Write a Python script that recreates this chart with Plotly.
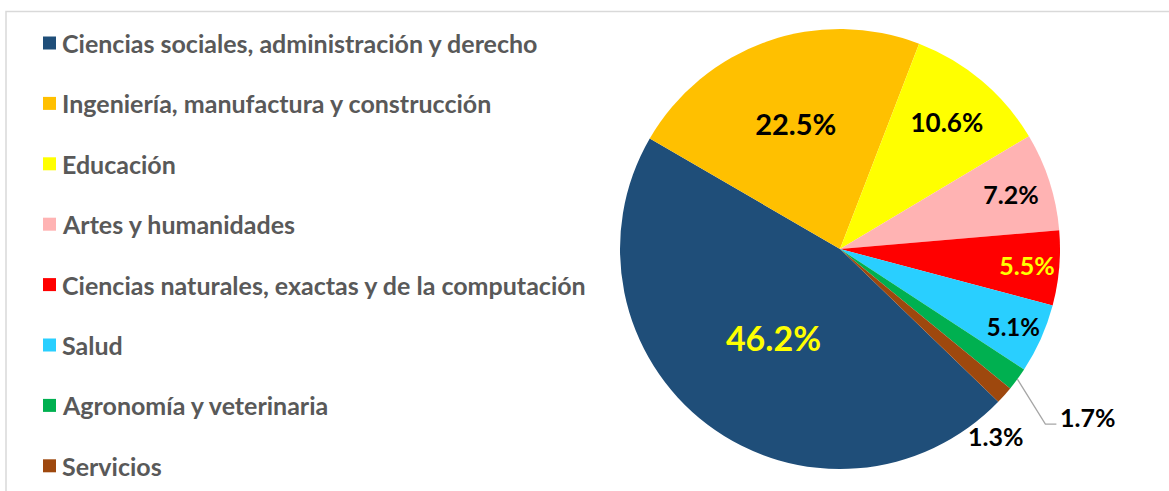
import math
import plotly.graph_objects as go

categories = [
    "Ciencias sociales, administración y derecho",
    "Ingeniería, manufactura y construcción",
    "Educación",
    "Artes y humanidades",
    "Ciencias naturales, exactas y de la computación",
    "Salud",
    "Agronomía y veterinaria",
    "Servicios",
]
values = [46.2, 22.5, 10.6, 7.2, 5.5, 5.1, 1.7, 1.3]
colors = ["#1F4E79", "#FFC000", "#FFFF00", "#FFB3B3", "#FF0000", "#29CFFF", "#00B050", "#9E480E"]
label_colors = ["#FFFF00", "#000000", "#000000", "#000000", "#FFFF00", "#000000", "#000000", "#000000"]
label_sizes = [34, 29, 26, 25, 25, 25, 25, 25]
label_pos = ["inside"] * 6 + ["none"] * 2

W, H = 1169, 491
FONT = "Lato"
ROT = 134
CX, CY, R = 840, 249, 220

fig = go.Figure()
fig.add_trace(go.Pie(
    labels=categories,
    values=values,
    sort=False,
    direction="clockwise",
    rotation=ROT,
    marker=dict(colors=colors, line=dict(width=0)),
    texttemplate="<b>%{value:.1f}%</b>",
    textposition=label_pos,
    insidetextorientation="horizontal",
    textfont=dict(family=FONT, color=label_colors, size=label_sizes),
    domain=dict(x=[(CX - R) / W, (CX + R) / W], y=[1 - (CY + R) / H, 1 - (CY - R) / H]),
    showlegend=False,
    hoverinfo="label+percent",
))

def px(x):
    return x / W

def py(y):
    return 1 - y / H

shapes = []
annotations = []

# outside labels for the two smallest slices (positions derived from slice mid-angles)
total = sum(values)
cum = 0.0
edge = []
for v in values:
    mid = ROT + (cum + v / 2) / total * 360
    a = math.radians(mid)
    edge.append((CX + R * math.sin(a), CY - R * math.cos(a)))
    cum += v

ex, ey = edge[6]  # Agronomía y veterinaria
shapes.append(dict(type="path", xref="paper", yref="paper",
                   path=f"M {px(ex)} {py(ey)} L {px(ex + 28)} {py(ey + 45)} L {px(ex + 39)} {py(ey + 45)}",
                   line=dict(color="#A6A6A6", width=1.3)))
annotations.append(dict(xref="paper", yref="paper", x=px(ex + 41), y=py(ey + 38),
                        xanchor="left", yanchor="middle", showarrow=False,
                        text=f"<b>{values[6]:.1f}%</b>",
                        font=dict(family=FONT, size=label_sizes[6], color=label_colors[6])))
ex, ey = edge[7]  # Servicios
annotations.append(dict(xref="paper", yref="paper", x=px(ex - 9), y=py(ey + 41),
                        xanchor="center", yanchor="middle", showarrow=False,
                        text=f"<b>{values[7]:.1f}%</b>",
                        font=dict(family=FONT, size=label_sizes[7], color=label_colors[7])))

# custom legend (Excel-style spaced legend)
y0 = 43
step = 60.4
for i, (cat, col) in enumerate(zip(categories, colors)):
    yc = y0 + i * step
    shapes.append(dict(type="rect", xref="paper", yref="paper",
                       x0=px(43), x1=px(56), y0=py(yc + 6.5), y1=py(yc - 6.5),
                       fillcolor=col, line=dict(width=0)))
    annotations.append(dict(xref="paper", yref="paper", x=px(60), y=py(yc),
                            xanchor="left", yanchor="middle", showarrow=False,
                            text="<b>" + cat + "</b>",
                            font=dict(family=FONT, size=25, color="#595959")))

# chart border
shapes.append(dict(type="rect", xref="paper", yref="paper",
                   x0=px(6), x1=1.05, y0=-0.05, y1=py(11.5),
                   line=dict(color="#D9D9D9", width=1.5), fillcolor="rgba(0,0,0,0)"))

fig.update_layout(
    width=W, height=H,
    margin=dict(l=0, r=0, t=0, b=0),
    paper_bgcolor="white",
    plot_bgcolor="white",
    shapes=shapes,
    annotations=annotations,
)

fig.write_html("out.html", config={"displayModeBar": False},
               post_script="document.body.style.margin='0px';")
